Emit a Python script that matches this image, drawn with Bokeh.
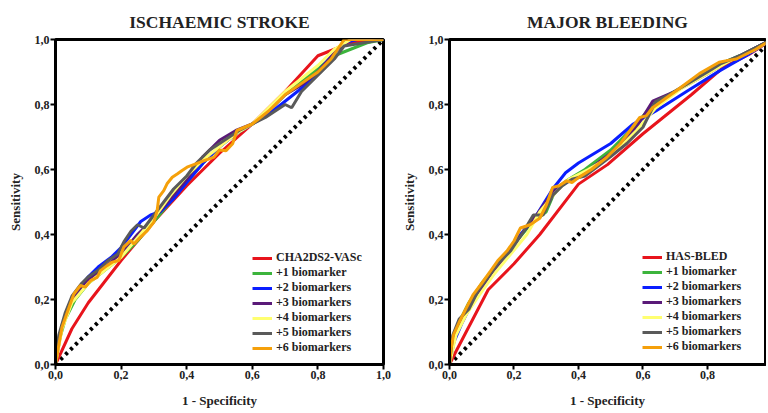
from bokeh.plotting import figure
from bokeh.layouts import row
from bokeh.models import CustomJSTickFormatter, FixedTicker, Legend, LegendItem, Range1d
from bokeh.embed import file_html
from bokeh.resources import INLINE

# ---------------- data: ISCHAEMIC STROKE ----------------
is_red_x = [0, 0.05, 0.1, 0.2, 0.3, 0.4, 0.5, 0.6, 0.7, 0.8, 0.85, 0.9, 1.0]
is_red_y = [0, 0.11, 0.19, 0.32, 0.44, 0.55, 0.65, 0.74, 0.84, 0.95, 0.97, 0.99, 1.0]
is_green_x = [0, 0.01, 0.03, 0.06, 0.1, 0.15, 0.2, 0.25, 0.3, 0.35, 0.4, 0.45, 0.5, 0.55, 0.6, 0.65, 0.7, 0.75, 0.8, 0.85, 0.9, 0.95, 1.0]
is_green_y = [0, 0.07, 0.14, 0.2, 0.25, 0.29, 0.33, 0.38, 0.44, 0.5, 0.56, 0.62, 0.67, 0.71, 0.74, 0.78, 0.83, 0.87, 0.91, 0.95, 0.97, 0.99, 1.0]
is_blue_x = [0, 0.01, 0.03, 0.06, 0.1, 0.13, 0.17, 0.2, 0.23, 0.26, 0.29, 0.32, 0.36, 0.4, 0.45, 0.5, 0.55, 0.6, 0.65, 0.7, 0.75, 0.8, 0.85, 0.88, 0.92, 1.0]
is_blue_y = [0, 0.08, 0.15, 0.22, 0.27, 0.3, 0.33, 0.36, 0.4, 0.44, 0.46, 0.47, 0.51, 0.56, 0.62, 0.67, 0.71, 0.74, 0.77, 0.81, 0.85, 0.9, 0.96, 0.99, 1.0, 1.0]
is_purple_x = [0, 0.02, 0.05, 0.1, 0.15, 0.2, 0.25, 0.3, 0.35, 0.4, 0.45, 0.5, 0.55, 0.6, 0.65, 0.7, 0.75, 0.8, 0.86, 0.9, 1.0]
is_purple_y = [0, 0.12, 0.2, 0.26, 0.3, 0.34, 0.4, 0.45, 0.51, 0.57, 0.64, 0.69, 0.72, 0.74, 0.78, 0.83, 0.86, 0.9, 0.97, 1.0, 1.0]
is_yellow_x = [0, 0.02, 0.05, 0.1, 0.15, 0.2, 0.25, 0.3, 0.35, 0.4, 0.45, 0.5, 0.55, 0.6, 0.65, 0.7, 0.75, 0.8, 0.85, 0.9, 1.0]
is_yellow_y = [0, 0.11, 0.19, 0.25, 0.29, 0.33, 0.39, 0.45, 0.52, 0.58, 0.63, 0.67, 0.71, 0.74, 0.79, 0.84, 0.88, 0.92, 0.97, 1.0, 1.0]
is_gray_x = [0, 0.01, 0.03, 0.05, 0.08, 0.1, 0.13, 0.16, 0.19, 0.21, 0.23, 0.25, 0.27, 0.3, 0.33, 0.36, 0.4, 0.43, 0.47, 0.5, 0.53, 0.56, 0.6, 0.64, 0.67, 0.7, 0.72, 0.75, 0.8, 0.85, 0.88, 1.0]
is_gray_y = [0, 0.09, 0.16, 0.21, 0.25, 0.27, 0.29, 0.32, 0.34, 0.38, 0.41, 0.43, 0.42, 0.46, 0.5, 0.54, 0.58, 0.62, 0.66, 0.68, 0.7, 0.72, 0.74, 0.76, 0.78, 0.8, 0.79, 0.84, 0.89, 0.94, 0.98, 1.0]
is_orange_x = [0, 0.01, 0.02, 0.036, 0.056, 0.076, 0.091, 0.107, 0.127, 0.137, 0.158, 0.173, 0.193, 0.208, 0.229, 0.239, 0.259, 0.28, 0.3, 0.31, 0.315, 0.33, 0.34, 0.356, 0.371, 0.386, 0.401, 0.442, 0.483, 0.5, 0.52, 0.54, 0.553, 0.6, 0.65, 0.7, 0.75, 0.8, 0.84, 0.86, 0.88, 1.0]
is_orange_y = [0, 0.06, 0.115, 0.161, 0.217, 0.243, 0.238, 0.258, 0.268, 0.289, 0.305, 0.315, 0.32, 0.361, 0.382, 0.371, 0.392, 0.412, 0.438, 0.474, 0.515, 0.535, 0.556, 0.576, 0.586, 0.597, 0.607, 0.623, 0.638, 0.66, 0.658, 0.679, 0.72, 0.74, 0.78, 0.83, 0.865, 0.9, 0.94, 0.97, 1.0, 1.0]

# ---------------- data: MAJOR BLEEDING ----------------
mb_red_x = [0, 0.02, 0.12, 0.2, 0.28, 0.4, 0.49, 0.6, 0.7, 0.75, 0.85, 0.93, 1.0]
mb_red_y = [0, 0.04, 0.23, 0.31, 0.4, 0.555, 0.615, 0.71, 0.79, 0.83, 0.915, 0.955, 1.0]
mb_green_x = [0, 0.01, 0.03, 0.06, 0.1, 0.15, 0.2, 0.25, 0.3, 0.33, 0.37, 0.42, 0.5, 0.58, 0.63, 0.7, 0.8, 0.84, 0.9, 0.97, 1.0]
mb_green_y = [0, 0.08, 0.13, 0.19, 0.25, 0.31, 0.37, 0.43, 0.47, 0.54, 0.57, 0.6, 0.66, 0.74, 0.8, 0.84, 0.9, 0.925, 0.95, 0.985, 1.0]
mb_blue_x = [0, 0.01, 0.04, 0.08, 0.12, 0.17, 0.22, 0.27, 0.32, 0.36, 0.4, 0.45, 0.5, 0.57, 0.64, 0.74, 0.84, 0.92, 1.0]
mb_blue_y = [0, 0.06, 0.13, 0.21, 0.27, 0.33, 0.4, 0.46, 0.54, 0.59, 0.62, 0.65, 0.68, 0.74, 0.78, 0.843, 0.905, 0.95, 1.0]
mb_purple_x = [0, 0.02, 0.05, 0.09, 0.13, 0.18, 0.23, 0.27, 0.32, 0.36, 0.42, 0.5, 0.58, 0.63, 0.7, 0.8, 0.86, 0.92, 1.0]
mb_purple_y = [0, 0.1, 0.16, 0.22, 0.28, 0.34, 0.41, 0.46, 0.53, 0.56, 0.59, 0.65, 0.73, 0.81, 0.84, 0.895, 0.93, 0.96, 1.0]
mb_yellow_x = [0, 0.02, 0.05, 0.09, 0.14, 0.19, 0.24, 0.28, 0.33, 0.37, 0.43, 0.5, 0.58, 0.64, 0.72, 0.8, 0.87, 0.94, 1.0]
mb_yellow_y = [0, 0.09, 0.15, 0.21, 0.28, 0.34, 0.4, 0.47, 0.53, 0.57, 0.6, 0.64, 0.72, 0.79, 0.85, 0.895, 0.935, 0.965, 1.0]
mb_gray_x = [0, 0.01, 0.03, 0.06, 0.09, 0.12, 0.15, 0.19, 0.23, 0.26, 0.29, 0.32, 0.35, 0.38, 0.42, 0.46, 0.5, 0.55, 0.6, 0.64, 0.68, 0.74, 0.8, 0.84, 0.9, 0.97, 1.0]
mb_gray_y = [0, 0.09, 0.14, 0.17, 0.23, 0.27, 0.31, 0.35, 0.41, 0.46, 0.46, 0.52, 0.55, 0.57, 0.58, 0.61, 0.64, 0.68, 0.73, 0.81, 0.83, 0.865, 0.9, 0.925, 0.95, 0.985, 1.0]
mb_orange_x = [0, 0.005, 0.013, 0.03, 0.05, 0.074, 0.1, 0.127, 0.15, 0.178, 0.2, 0.22, 0.25, 0.28, 0.3, 0.32, 0.34, 0.363, 0.38, 0.4, 0.44, 0.487, 0.53, 0.59, 0.61, 0.63, 0.7, 0.775, 0.836, 0.86, 0.89, 0.95, 1.0]
mb_orange_y = [0, 0.05, 0.093, 0.13, 0.17, 0.216, 0.25, 0.287, 0.32, 0.349, 0.38, 0.42, 0.43, 0.45, 0.49, 0.545, 0.55, 0.565, 0.56, 0.575, 0.6, 0.637, 0.68, 0.76, 0.765, 0.79, 0.84, 0.895, 0.93, 0.935, 0.94, 0.97, 1.0]

diag = [0, 1]
ticks = [0, 0.2, 0.4, 0.6, 0.8, 1.0]
labels_is = ["CHA2DS2-VASc", "+1 biomarker", "+2 biomarkers", "+3 biomarkers",
             "+4 biomarkers", "+5 biomarkers", "+6 biomarkers"]
labels_mb = ["HAS-BLED", "+1 biomarker", "+2 biomarkers", "+3 biomarkers",
             "+4 biomarkers", "+5 biomarkers", "+6 biomarkers"]
colors = ["#e8141c", "#3cb43c", "#0a1eff", "#5a1a78", "#ffff70", "#5a5a5a", "#f5a00a"]

FONT = "Liberation Serif"


def make(title, series, labels, width, left, right, xend, leg_loc):
    p = figure(width=width, height=412, output_backend="svg", toolbar_location=None,
               x_range=Range1d(0, xend), y_range=Range1d(0, 1.0),
               min_border_left=left, min_border_right=right,
               min_border_top=39, min_border_bottom=48)
    p.title.text = title
    p.title.align = "center"
    p.title.text_font = FONT
    p.title.text_font_size = "17.5px"
    p.title.text_font_style = "bold"
    p.title.text_color = "#222222"
    p.title.standoff = 16
    p.grid.visible = False
    p.outline_line_color = "black"
    p.outline_line_width = 3
    p.outline_line_alpha = 1
    fmt = CustomJSTickFormatter(code="return tick.toFixed(1).replace('.', ',');")
    for ax in (p.xaxis[0], p.yaxis[0]):
        ax.ticker = FixedTicker(ticks=ticks)
        ax.formatter = fmt
        ax.axis_line_width = 3
        ax.major_tick_line_width = 2
        ax.major_tick_out = 5
        ax.major_tick_in = 0
        ax.minor_tick_line_color = None
        ax.major_label_text_font = FONT
        ax.major_label_text_font_style = "bold"
        ax.major_label_text_font_size = "12px"
        ax.major_label_text_color = "#222222"
        ax.axis_label_text_font = FONT
        ax.axis_label_text_font_style = "bold"
        ax.axis_label_text_color = "#222222"
        ax.axis_label_text_font_size = "13px"
        ax.major_label_standoff = 1
    p.xaxis.axis_label = "1 - Specificity"
    p.yaxis.axis_label = "Sensitivity"
    p.xaxis.axis_label_standoff = 11
    p.yaxis.axis_label_standoff = 9

    p.line(diag, diag, line_color="black", line_width=4, line_dash="3 4")
    items = []
    for (xs, ys), c, lab in zip(series, colors, labels):
        r = p.line(xs, ys, line_color=c, line_width=3)
        items.append(LegendItem(label=lab, renderers=[r]))
    leg = Legend(items=items, location=leg_loc)
    leg.label_text_font = FONT
    leg.label_text_font_style = "bold"
    leg.label_text_font_size = "12px"
    leg.label_text_color = "#222222"
    leg.label_height = 12
    leg.glyph_height = 12
    leg.glyph_width = 20
    leg.spacing = 0
    leg.padding = 4
    leg.margin = 0
    leg.label_standoff = 4
    leg.border_line_color = None
    leg.background_fill_alpha = 0
    p.add_layout(leg, "center")
    return p


p1 = make("ISCHAEMIC STROKE",
          [(is_red_x, is_red_y), (is_green_x, is_green_y), (is_blue_x, is_blue_y),
           (is_purple_x, is_purple_y), (is_yellow_x, is_yellow_y), (is_gray_x, is_gray_y),
           (is_orange_x, is_orange_y)],
          labels_is, 392, 55, 9, 1.0, (197, 9))
p2 = make("MAJOR BLEEDING",
          [(mb_red_x, mb_red_y), (mb_green_x, mb_green_y), (mb_blue_x, mb_blue_y),
           (mb_purple_x, mb_purple_y), (mb_yellow_x, mb_yellow_y), (mb_gray_x, mb_gray_y),
           (mb_orange_x, mb_orange_y)],
          labels_mb, 374, 57, 1, 0.98, (193, 10))

layout = row(p1, p2)
open("out.html", "w").write(file_html(layout, INLINE))
